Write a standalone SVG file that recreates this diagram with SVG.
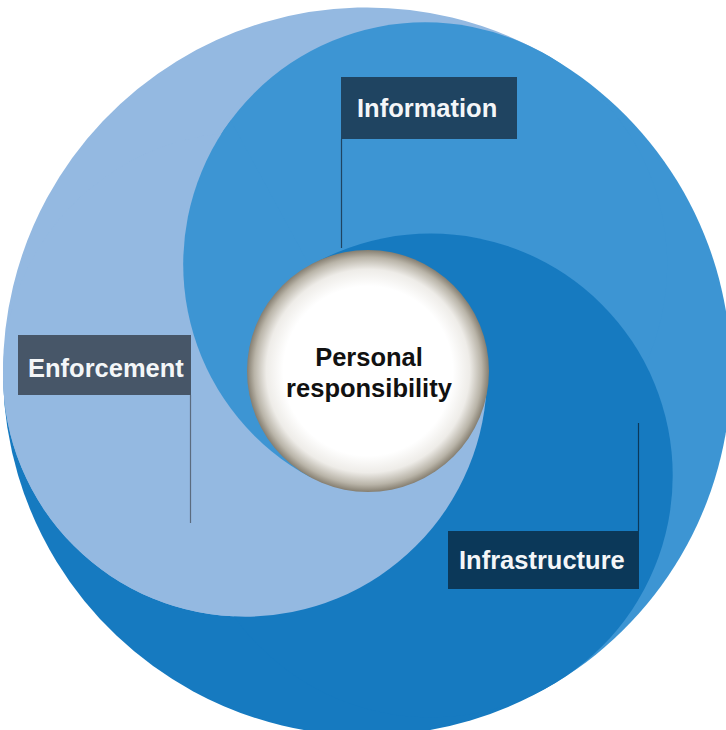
<svg xmlns="http://www.w3.org/2000/svg" xmlns:xlink="http://www.w3.org/1999/xlink" width="726" height="730" viewBox="0 0 726 730">
  <style>
    .lb { fill: #94b9e1; }
    .mb { fill: #3d95d3; }
    .db { fill: #167ac0; }
    .lbl { font-family: "Liberation Sans", Arial, sans-serif; font-weight: bold; font-size: 25.5px; fill: #f4f6f8; }
    .ctr { font-family: "Liberation Sans", Arial, sans-serif; font-weight: bold; font-size: 25.5px; fill: #111111; text-anchor: middle; }
    .conn { stroke-width: 1.2; fill: none; }
  </style>
  <defs>
    <circle id="hL" cx="245" cy="374.7" r="242"/>
    <circle id="hM" cx="425.2" cy="264.3" r="242"/>
    <circle id="hD" cx="430.7" cy="475.5" r="242"/>
    <clipPath id="sBC"><polygon points="367,371.5 1166.7,350.6 837.3,1138.9 -14.7,1074.6 -532.7,395.1 -51,-310.6"/></clipPath>
    <clipPath id="sC"><polygon points="367,371.5 -14.7,1074.6 -532.7,395.1 -200,-300 -14.7,-331.6"/></clipPath>
    <radialGradient id="ball" cx="368" cy="371" r="121" gradientUnits="userSpaceOnUse">
      <stop offset="0" stop-color="#ffffff"/>
      <stop offset="0.7" stop-color="#ffffff"/>
      <stop offset="0.84" stop-color="#eeece8"/>
      <stop offset="0.94" stop-color="#b9b4a8"/>
      <stop offset="1" stop-color="#857e70"/>
    </radialGradient>
  </defs>

  <g id="swirl">
    <path class="lb" d="M367,371.5 L3.12,381.03 A364,364 0 0 1 540.69,51.61 Z"/>
    <path class="mb" d="M367,371.5 L540.69,51.61 A364,364 0 0 1 557.19,681.86 Z"/>
    <path class="db" d="M367,371.5 L557.19,681.86 A364,364 0 0 1 3.12,381.03 Z"/>
    <use xlink:href="#hL" class="lb"/>
    <use xlink:href="#hM" class="mb"/>
    <use xlink:href="#hD" class="db"/>
    <use xlink:href="#hL" class="lb" clip-path="url(#sBC)"/>
    <use xlink:href="#hM" class="mb" clip-path="url(#sC)"/>
  </g>

  <g id="connectors">
    <line class="conn" x1="341.5" y1="139" x2="341.5" y2="248" stroke="#1f4461"/>
    <line class="conn" x1="190.5" y1="395" x2="190.5" y2="523" stroke="#5b6b7e"/>
    <line class="conn" x1="638.5" y1="423" x2="638.5" y2="531" stroke="#0b3859"/>
  </g>

  <g id="personal">
    <circle cx="368" cy="371" r="121" fill="url(#ball)"/>
    <text class="ctr" x="369" y="366">Personal</text>
    <text class="ctr" x="369" y="397">responsibility</text>
  </g>

  <g id="information">
    <rect x="341" y="77" width="176" height="62" fill="#1f4461"/>
    <text class="lbl" x="357" y="117">Information</text>
  </g>

  <g id="enforcement">
    <rect x="18" y="335" width="173" height="60" fill="#475668"/>
    <text class="lbl" x="28" y="377">Enforcement</text>
  </g>

  <g id="infrastructure">
    <rect x="448" y="531" width="191" height="58" fill="#0b3859"/>
    <text class="lbl" x="459" y="569">Infrastructure</text>
  </g>
</svg>
